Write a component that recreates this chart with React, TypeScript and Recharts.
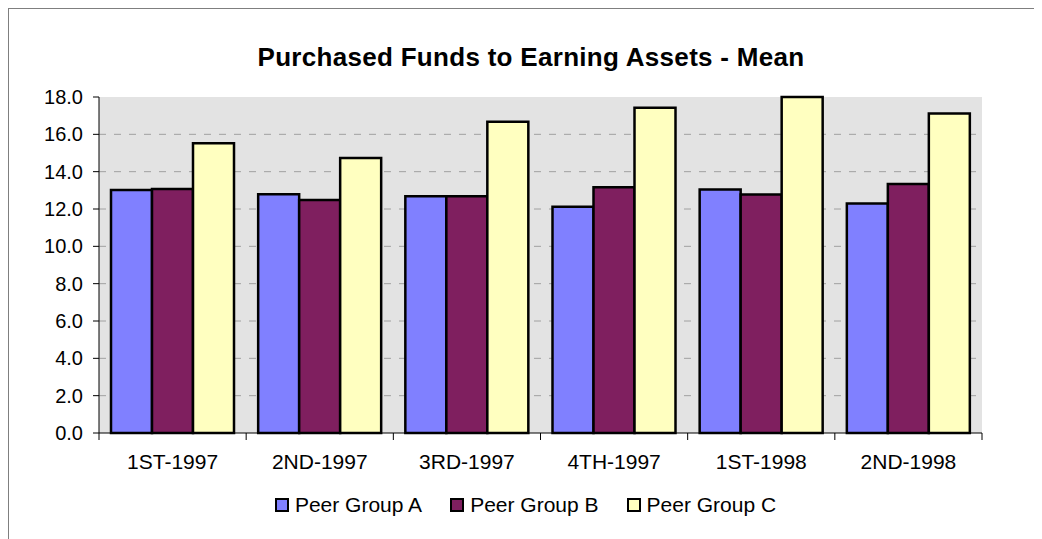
import { BarChart, Bar, XAxis, YAxis, CartesianGrid } from 'recharts';

const categories = ['1ST-1997', '2ND-1997', '3RD-1997', '4TH-1997', '1ST-1998', '2ND-1998'];
const peerGroupA = [13.02, 12.79, 12.68, 12.12, 13.05, 12.3];
const peerGroupB = [13.07, 12.48, 12.68, 13.16, 12.78, 13.34];
const peerGroupC = [15.52, 14.73, 16.68, 17.43, 18.0, 17.12];
const yTicks = [0, 2, 4, 6, 8, 10, 12, 14, 16, 18];
const gridValues = [2, 4, 6, 8, 10, 12, 14, 16];

const series = [
  { key: 'a', name: 'Peer Group A', color: '#8080FF' },
  { key: 'b', name: 'Peer Group B', color: '#7F1F5F' },
  { key: 'c', name: 'Peer Group C', color: '#FFFFC0' },
];

const data = categories.map((name, i) => ({
  name,
  a: peerGroupA[i],
  b: peerGroupB[i],
  c: peerGroupC[i],
}));

const FONT = '"Liberation Sans", Arial, sans-serif';

function CategoryTick(props: any) {
  const { x, y, payload, index, visibleTicksCount } = props;
  const half = payload?.offset ?? 73.6;
  const last = index === visibleTicksCount - 1;
  return (
    <g>
      <line x1={x - half} x2={x - half} y1={y} y2={y + 7} stroke="#000" />
      {last && <line x1={x + half} x2={x + half} y1={y} y2={y + 7} stroke="#000" />}
      <text x={x} y={y + 36} textAnchor="middle" fill="#000" fontSize={21} fontFamily={FONT}>
        {payload.value}
      </text>
    </g>
  );
}

export default function App() {
  return (
    <div
      style={{
        position: 'relative',
        width: 1034,
        height: 531,
        borderTop: '1px solid #7f7f7f',
        borderLeft: '1px solid #7f7f7f',
        fontFamily: FONT,
        background: '#fff',
      }}
    >
      <div
        style={{
          position: 'absolute',
          top: 33,
          left: 0,
          width: 1044,
          textAlign: 'center',
          fontSize: 26,
          fontWeight: 'bold',
          letterSpacing: 0.3,
          color: '#000',
        }}
      >
        Purchased Funds to Earning Assets - Mean
      </div>

      <BarChart
        width={1033}
        height={530}
        data={data}
        margin={{ top: 88, right: 60, left: 0, bottom: 66 }}
        barCategoryGap={12}
        barGap={0}
      >
        <CartesianGrid
          vertical={false}
          fill="#E3E3E3"
          stroke="#A0A0A0"
          strokeDasharray="7 8"
          horizontalValues={gridValues}
        />
        <XAxis
          dataKey="name"
          height={40}
          axisLine={{ stroke: '#000' }}
          tickLine={false}
          tickSize={0}
          tickMargin={0}
          tick={<CategoryTick />}
          interval={0}
        />
        <XAxis
          xAxisId="top"
          dataKey="name"
          orientation="top"
          height={0}
          tick={false}
          tickLine={false}
          axisLine={{ stroke: '#808080', strokeWidth: 2 }}
        />
        <YAxis
          width={90}
          domain={[0, 18]}
          ticks={yTicks}
          interval={0}
          tickFormatter={(v: number) => v.toFixed(1)}
          tickSize={6}
          tickMargin={10}
          axisLine={{ stroke: '#000' }}
          tickLine={{ stroke: '#000' }}
          tick={{ fill: '#000', fontSize: 20, fontFamily: FONT }}
        />
        <YAxis
          yAxisId="frame"
          orientation="right"
          width={0}
          domain={[0, 18]}
          tick={false}
          tickLine={false}
          axisLine={{ stroke: '#808080', strokeWidth: 2 }}
        />
        {series.map((s) => (
          <Bar
            key={s.key}
            dataKey={s.key}
            name={s.name}
            fill={s.color}
            stroke="#000"
            strokeWidth={2.5}
            isAnimationActive={false}
          />
        ))}
      </BarChart>

      <div
        style={{
          position: 'absolute',
          top: 484,
          left: 0,
          width: 1033,
          display: 'flex',
          justifyContent: 'center',
          gap: 28,
          fontSize: 21,
          color: '#000',
        }}
      >
        {series.map((s) => (
          <div key={s.key} style={{ display: 'flex', alignItems: 'center', gap: 6 }}>
            <span
              style={{
                display: 'inline-block',
                width: 10,
                height: 10,
                background: s.color,
                border: '2px solid #000',
              }}
            />
            <span>{s.name}</span>
          </div>
        ))}
      </div>
    </div>
  );
}
